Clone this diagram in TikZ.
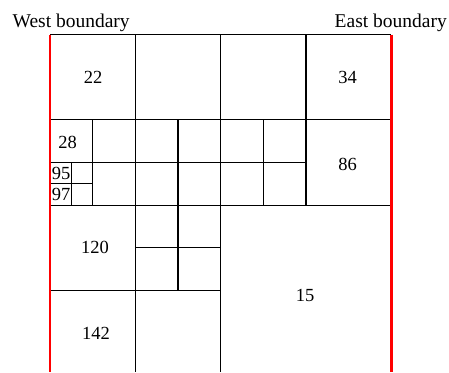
\documentclass[tikz,border=0pt]{standalone}
\usepackage{fontspec}
\setmainfont{Liberation Serif}
\begin{document}
\begin{tikzpicture}[x=1pt,y=-1pt,
  grid/.style={line width=1.3pt,black},
  bound/.style={line width=2.6pt,red},
  lbl/.style={font=\fontsize{18.5}{20}\selectfont,inner sep=0pt},
  title/.style={font=\fontsize{19.5}{22}\selectfont,inner sep=0pt}]
\useasboundingbox (0,0) rectangle (449,372);
% columns / rows
\def\xa{50}\def\xb{135.3}\def\xc{220.7}\def\xd{306}\def\xe{391.3}
\def\ya{34.5}\def\yb{119.8}\def\yc{205.2}\def\yd{290.5}\def\ye{372}
% main grid
\draw[grid] (\xa,\ya) -- (\xe,\ya);
\draw[grid] (\xa,\yb) -- (\xe,\yb);
\draw[grid] (\xa,\yc) -- (\xe,\yc);
\draw[grid] (\xa,\yd) -- (\xc,\yd);
\draw[grid] (\xb,\ya) -- (\xb,\ye);
\draw[grid] (\xc,\ya) -- (\xc,\ye);
\draw[grid] (\xd,\ya) -- (\xd,\yc);
% refinements
\draw[grid] (\xa,162.5) -- (\xd,162.5);
\draw[grid] (92.7,\yb) -- (92.7,\yc);
\draw[grid] (178,\yb) -- (178,\yd);
\draw[grid] (263.3,\yb) -- (263.3,\yc);
\draw[grid] (\xb,247.8) -- (\xc,247.8);
\draw[grid] (71.3,162.5) -- (71.3,\yc);
\draw[grid] (\xa,183.8) -- (92.7,183.8);
% boundaries
\draw[bound] (\xa,\ya) -- (\xa,\ye);
\draw[bound] (\xe,\ya) -- (\xe,\ye);
% labels
\node[title,anchor=base west] (west) at (12.5,27) {West boundary};
\node[title,anchor=base east] (east) at (447,27) {East boundary};
\node[lbl] (c22) at (93,77) {22};
\node[lbl] (c34) at (347.5,77) {34};
\node[lbl] (c28) at (67.5,142.5) {28};
\node[lbl] (c86) at (347.5,164) {86};
\node[lbl] (c95) at (61,173.5) {95};
\node[lbl] (c97) at (61,194.5) {97};
\node[lbl] (c120) at (95,247) {120};
\node[lbl] (c15) at (305,295) {15};
\node[lbl] (c142) at (96,333) {142};
\end{tikzpicture}
\end{document}
